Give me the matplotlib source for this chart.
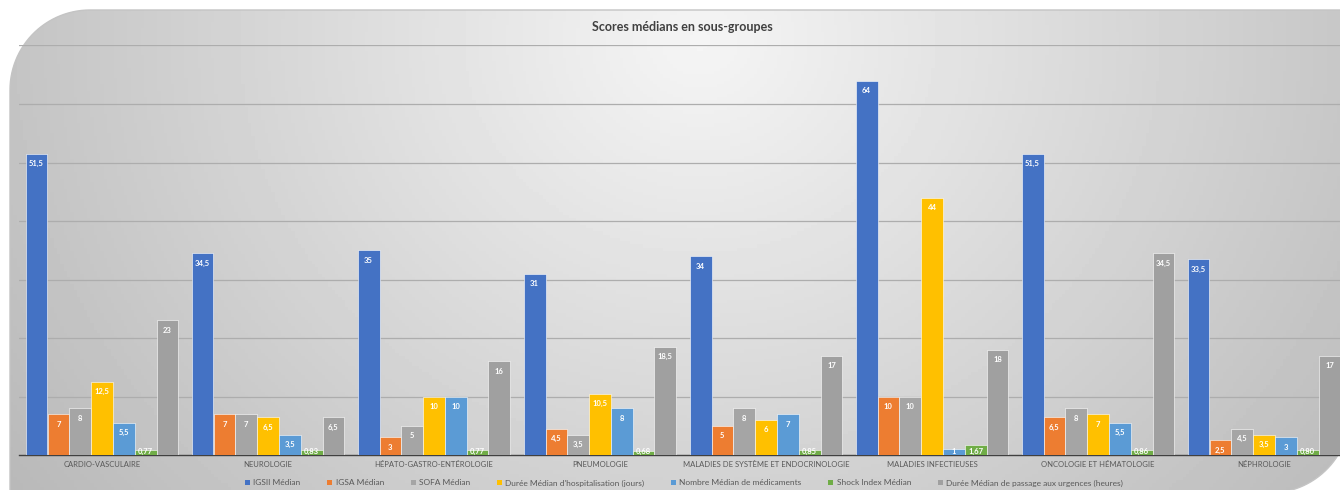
import numpy as np
import matplotlib
matplotlib.use('Agg')
from matplotlib import pyplot as plt
from matplotlib.patches import PathPatch, Patch
from matplotlib.path import Path

plt.rcParams['font.family'] = ['Lato', 'DejaVu Sans']

categories = ['CARDIO-VASCULAIRE', 'NEUROLOGIE', 'HÉPATO-GASTRO-ENTÉROLOGIE', 'PNEUMOLOGIE',
              'MALADIES DE SYSTÈME ET ENDOCRINOLOGIE', 'MALADIES INFECTIEUSES',
              'ONCOLOGIE ET HÉMATOLOGIE', 'NÉPHROLOGIE']

series_names = ['IGSII Médian', 'IGSA Médian', 'SOFA Médian',
                "Durée Médian d'hospitalisation (jours)", 'Nombre Médian de médicaments',
                'Shock Index Médian', 'Durée Médian de passage aux urgences (heures)']

igsii = [51.5, 34.5, 35, 31, 34, 64, 51.5, 33.5]
igsa = [7, 7, 3, 4.5, 5, 10, 6.5, 2.5]
sofa = [8, 7, 5, 3.5, 8, 10, 8, 4.5]
duree_hosp = [12.5, 6.5, 10, 10.5, 6, 44, 7, 3.5]
nb_medic = [5.5, 3.5, 10, 8, 7, 1, 5.5, 3]
shock_index = [0.77, 0.83, 0.77, 0.68, 0.85, 1.67, 0.86, 0.80]
duree_urg = [23, 6.5, 16, 18.5, 17, 18, 34.5, 17]

series = [igsii, igsa, sofa, duree_hosp, nb_medic, shock_index, duree_urg]
colors = ['#4472C4', '#ED7D31', '#A5A5A5', '#FFC000', '#5B9BD5', '#70AD47', '#A0A0A0']


def fmt(v):
    s = ('%.2f' % v).rstrip('0').rstrip('.')
    if v < 2 and '.' in s:
        s = '%.2f' % v
    return s.replace('.', ',')


def card_shape():
    # contour de la carte : coin haut-gauche et bas-droit arrondis
    t1 = np.linspace(np.pi, 1.5 * np.pi, 30)
    t2 = np.linspace(0, 0.5 * np.pi, 30)
    pts = [(10, 500), (10, 90)]
    pts += list(zip(90 + 80 * np.cos(t1), 90 + 80 * np.sin(t1)))
    pts += [(1350, 10), (1350, 413)]
    pts += list(zip(1268 + 80 * np.cos(t2) + 2, 413 + 80 * np.sin(t2)))
    pts += [(10, 500)]
    codes = [Path.MOVETO] + [Path.LINETO] * (len(pts) - 2) + [Path.CLOSEPOLY]
    return Path(pts, codes)


fig = plt.figure(figsize=(13.4, 4.9), dpi=100)

# fond gris en degrade
bg = fig.add_axes([0, 0, 1, 1])
bg.set_xlim(0, 1340)
bg.set_ylim(490, 0)
bg.axis('off')
X, Y = np.meshgrid(np.linspace(0, 1340, 400), np.linspace(0, 490, 150))
d = np.sqrt(((X - 700) / 720.0) ** 2 + ((Y - 40) / 650.0) ** 2)
grad = np.clip(0.96 - 0.2 * d, 0, 1)
im = bg.imshow(grad, extent=(0, 1340, 490, 0), cmap='gray', vmin=0, vmax=1, aspect='auto')
card = PathPatch(card_shape(), facecolor='none', edgecolor='#c4c4c4', lw=1)
bg.add_patch(card)
im.set_clip_path(card)

ax = fig.add_axes([19 / 1340, 35 / 490, 1321 / 1340, 409.5 / 490])
ax.patch.set_alpha(0)
w = 21.8 / 166
x = np.arange(len(categories))
for j, (vals, c) in enumerate(zip(series, colors)):
    pos = x + (j - 3) * w
    ax.bar(pos, vals, width=w, color=c, edgecolor='white', linewidth=0.4, zorder=3)
    for p, v in zip(pos, vals):
        ax.annotate(fmt(v), xy=(p, max(v, 2.3)), xytext=(0, -10), textcoords='offset pixels',
                    ha='center', va='center', fontsize=5.5, fontweight='bold', color='white', zorder=4)

ax.set_ylim(0, 70)
ax.set_xlim(-0.5, 7.5 - 7 / 166)
ax.set_yticks(np.arange(10, 71, 10))
ax.yaxis.grid(True, color='#adadad', lw=0.9, zorder=0)
ax.tick_params(axis='y', left=False, labelleft=False)
ax.set_xticks(x)
ax.set_xticklabels(categories, fontsize=5.5, color='#595959')
ax.tick_params(axis='x', length=0, pad=4)
for s in ['top', 'left', 'right']:
    ax.spines[s].set_visible(False)
ax.spines['bottom'].set_color('#404040')
ax.spines['bottom'].set_linewidth(1)

fig.text(682 / 1340, 1 - 27 / 490, 'Scores médians en sous-groupes', ha='center', va='center',
         fontsize=9, fontweight='bold', color='#404040')

handles = [Patch(facecolor=c, label=n) for c, n in zip(colors, series_names)]
fig.legend(handles=handles, loc='center', bbox_to_anchor=(684 / 1340, 1 - 483 / 490), ncol=7,
           frameon=False, fontsize=6, labelcolor='#595959', handlelength=0.6, handleheight=0.6,
           handletextpad=0.4, columnspacing=3.2)

plt.savefig('out.png', dpi=100)
